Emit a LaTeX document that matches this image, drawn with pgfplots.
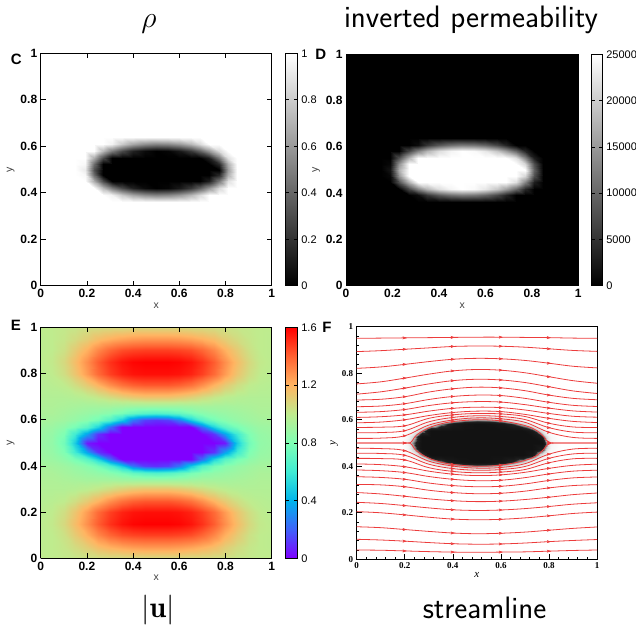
\documentclass[border=0pt]{standalone}
\usepackage{fontspec}
\usepackage{pgfplots}
\usepackage{pgfplotstable}
\pgfplotsset{compat=1.18}
\newfontfamily\hel{Liberation Sans}
\newfontfamily\tms{Liberation Serif}
\definecolor{slred}{RGB}{236,60,60}
\pgfdeclareplotmark{barb}{%
 \pgfpathmoveto{\pgfpoint{-0.9\pgfplotmarksize}{0.6\pgfplotmarksize}}%
 \pgfpathlineto{\pgfpoint{0.8\pgfplotmarksize}{0pt}}%
 \pgfpathlineto{\pgfpoint{-0.9\pgfplotmarksize}{-0.6\pgfplotmarksize}}%
 \pgfpathlineto{\pgfpoint{-0.5\pgfplotmarksize}{0pt}}%
 \pgfpathclose
 \pgfusepathqfillstroke}
\pgfplotsset{
 colormap={mplrb}{rgb(0cm)=(0.5,0,1); rgb(1cm)=(0.25,0.383,0.981); rgb(2cm)=(0,0.707,0.924); rgb(3cm)=(0.25,0.924,0.831); rgb(4cm)=(0.5,1,0.707); rgb(5cm)=(0.75,0.924,0.556); rgb(6cm)=(1,0.707,0.383); rgb(7cm)=(1,0.383,0.195); rgb(8cm)=(1,0,0)},
 colormap={fgray}{gray(0cm)=(0.07); gray(1cm)=(0.09); gray(2cm)=(0.13); gray(3cm)=(0.6); gray(4cm)=(0.84); gray(5cm)=(0.91); gray(6cm)=(0.95); gray(7cm)=(0.97); gray(8cm)=(0.98); gray(9cm)=(0.99); gray(10cm)=(1)},
 gp/.style={
  scale only axis, view={0}{90}, xmin=0, xmax=1, ymin=0, ymax=1,
  xtick={0,0.2,0.4,0.6,0.8,1}, ytick={0,0.2,0.4,0.6,0.8,1}, ztick=\empty,
  tick align=inside, major tick length=5bp,
  tick style={black, line width=0.6bp},
  axis line style={line width=0.9bp},
  axis on top,
  tick label style={font=\hel\bfseries\fontsize{12bp}{13bp}\selectfont},
  /pgf/number format/assume math mode=true,
  xlabel={x}, ylabel={y},
  label style={font=\hel\fontsize{10.5bp}{11bp}\selectfont, text=black!75},
  xlabel style={yshift=2bp}, ylabel style={yshift=-1bp},
  colorbar,
  colorbar style={
   at={(parent axis.north east)}, anchor=north west,
   width=12bp, scale only axis,
   ytick pos=both, yticklabel pos=right,
   tick align=inside, major tick length=3.5bp,
   tick style={black, line width=0.6bp},
   axis line style={line width=0.8bp},
   tick label style={font=\hel\fontsize{11bp}{12bp}\selectfont},
   /pgf/number format/assume math mode=true,
  },
 },
}

\pgfplotstableread[row sep=\\]{x y r\\
0.15 0.36 1\\ 0.19 0.36 1\\ 0.23 0.36 1\\ 0.27 0.36 1\\ 0.31 0.36 1\\ 0.35 0.36 1\\ 0.40 0.36 1\\ 0.45 0.36 1\\ 0.50 0.36 1\\ 0.55 0.36 1\\ 0.60 0.36 1\\ 0.65 0.36 1\\ 0.69 0.36 1\\ 0.73 0.36 1\\ 0.77 0.36 1\\ 0.81 0.36 1\\ 0.85 0.36 1\\ 0.89 0.36 1\\
0.15 0.39 1\\ 0.19 0.39 1\\ 0.23 0.39 1\\ 0.27 0.39 1\\ 0.31 0.39 0.95\\ 0.35 0.39 0.79\\ 0.40 0.39 0.65\\ 0.45 0.39 0.56\\ 0.50 0.39 0.52\\ 0.55 0.39 0.54\\ 0.60 0.39 0.60\\ 0.65 0.39 0.72\\ 0.69 0.39 0.86\\ 0.73 0.39 1\\ 0.77 0.39 1\\ 0.81 0.39 1\\ 0.85 0.39 1\\ 0.89 0.39 1\\
0.15 0.42 1\\ 0.19 0.42 1\\ 0.23 0.42 1\\ 0.27 0.42 0.72\\ 0.31 0.42 0.48\\ 0.35 0.42 0.29\\ 0.40 0.42 0.13\\ 0.45 0.42 0.04\\ 0.50 0.42 0\\ 0.55 0.42 0.02\\ 0.60 0.42 0.09\\ 0.65 0.42 0.22\\ 0.69 0.42 0.38\\ 0.73 0.42 0.59\\ 0.77 0.42 0.85\\ 0.81 0.42 1\\ 0.85 0.42 1\\ 0.89 0.42 1\\
0.15 0.45 1\\ 0.19 0.45 1\\ 0.23 0.45 0.67\\ 0.27 0.45 0.29\\ 0.31 0.45 0\\ 0.35 0.45 0\\ 0.40 0.45 0\\ 0.45 0.45 0\\ 0.50 0.45 0\\ 0.55 0.45 0\\ 0.60 0.45 0\\ 0.65 0.45 0\\ 0.69 0.45 0\\ 0.73 0.45 0.12\\ 0.77 0.45 0.47\\ 0.81 0.45 0.88\\ 0.85 0.45 1\\ 0.89 0.45 1\\
0.15 0.475 1\\ 0.19 0.475 0.97\\ 0.23 0.475 0.42\\ 0.27 0.475 0\\ 0.31 0.475 0\\ 0.35 0.475 0\\ 0.40 0.475 0\\ 0.45 0.475 0\\ 0.50 0.475 0\\ 0.55 0.475 0\\ 0.60 0.475 0\\ 0.65 0.475 0\\ 0.69 0.475 0\\ 0.73 0.475 0\\ 0.77 0.475 0.16\\ 0.81 0.475 0.69\\ 0.85 0.475 1\\ 0.89 0.475 1\\
0.15 0.5 1\\ 0.19 0.5 0.92\\ 0.23 0.5 0.31\\ 0.27 0.5 0\\ 0.31 0.5 0\\ 0.35 0.5 0\\ 0.40 0.5 0\\ 0.45 0.5 0\\ 0.50 0.5 0\\ 0.55 0.5 0\\ 0.60 0.5 0\\ 0.65 0.5 0\\ 0.69 0.5 0\\ 0.73 0.5 0\\ 0.77 0.5 0\\ 0.81 0.5 0.62\\ 0.85 0.5 1\\ 0.89 0.5 1\\
0.15 0.525 1\\ 0.19 0.525 0.97\\ 0.23 0.525 0.42\\ 0.27 0.525 0\\ 0.31 0.525 0\\ 0.35 0.525 0\\ 0.40 0.525 0\\ 0.45 0.525 0\\ 0.50 0.525 0\\ 0.55 0.525 0\\ 0.60 0.525 0\\ 0.65 0.525 0\\ 0.69 0.525 0\\ 0.73 0.525 0\\ 0.77 0.525 0.16\\ 0.81 0.525 0.69\\ 0.85 0.525 1\\ 0.89 0.525 1\\
0.15 0.55 1\\ 0.19 0.55 1\\ 0.23 0.55 0.67\\ 0.27 0.55 0.29\\ 0.31 0.55 0\\ 0.35 0.55 0\\ 0.40 0.55 0\\ 0.45 0.55 0\\ 0.50 0.55 0\\ 0.55 0.55 0\\ 0.60 0.55 0\\ 0.65 0.55 0\\ 0.69 0.55 0\\ 0.73 0.55 0.12\\ 0.77 0.55 0.47\\ 0.81 0.55 0.88\\ 0.85 0.55 1\\ 0.89 0.55 1\\
0.15 0.58 1\\ 0.19 0.58 1\\ 0.23 0.58 1\\ 0.27 0.58 0.72\\ 0.31 0.58 0.48\\ 0.35 0.58 0.29\\ 0.40 0.58 0.13\\ 0.45 0.58 0.04\\ 0.50 0.58 0\\ 0.55 0.58 0.02\\ 0.60 0.58 0.09\\ 0.65 0.58 0.22\\ 0.69 0.58 0.38\\ 0.73 0.58 0.59\\ 0.77 0.58 0.85\\ 0.81 0.58 1\\ 0.85 0.58 1\\ 0.89 0.58 1\\
0.15 0.61 1\\ 0.19 0.61 1\\ 0.23 0.61 1\\ 0.27 0.61 1\\ 0.31 0.61 0.95\\ 0.35 0.61 0.79\\ 0.40 0.61 0.65\\ 0.45 0.61 0.56\\ 0.50 0.61 0.52\\ 0.55 0.61 0.54\\ 0.60 0.61 0.60\\ 0.65 0.61 0.72\\ 0.69 0.61 0.86\\ 0.73 0.61 1\\ 0.77 0.61 1\\ 0.81 0.61 1\\ 0.85 0.61 1\\ 0.89 0.61 1\\
0.15 0.64 1\\ 0.19 0.64 1\\ 0.23 0.64 1\\ 0.27 0.64 1\\ 0.31 0.64 1\\ 0.35 0.64 1\\ 0.40 0.64 1\\ 0.45 0.64 1\\ 0.50 0.64 1\\ 0.55 0.64 1\\ 0.60 0.64 1\\ 0.65 0.64 1\\ 0.69 0.64 1\\ 0.73 0.64 1\\ 0.77 0.64 1\\ 0.81 0.64 1\\ 0.85 0.64 1\\ 0.89 0.64 1\\
}\rhotab

\pgfplotstableread[row sep=\\]{x y v\\
0 0 1.0\\ 0.05 0 1.0\\ 0.1 0 1.01\\ 0.15 0 1.02\\ 0.2 0 1.04\\ 0.25 0 1.05\\ 0.3 0 1.06\\ 0.35 0 1.06\\ 0.4 0 1.07\\ 0.45 0 1.07\\ 0.5 0 1.07\\ 0.55 0 1.07\\ 0.6 0 1.07\\ 0.65 0 1.06\\ 0.7 0 1.06\\ 0.75 0 1.05\\ 0.8 0 1.04\\ 0.85 0 1.02\\ 0.9 0 1.01\\ 0.95 0 1.0\\ 1 0 1.0\\
0 0.05 0.99\\ 0.05 0.05 1.0\\ 0.1 0.05 1.02\\ 0.15 0.05 1.06\\ 0.2 0.05 1.11\\ 0.25 0.05 1.17\\ 0.3 0.05 1.21\\ 0.35 0.05 1.24\\ 0.4 0.05 1.26\\ 0.45 0.05 1.27\\ 0.5 0.05 1.27\\ 0.55 0.05 1.27\\ 0.6 0.05 1.26\\ 0.65 0.05 1.24\\ 0.7 0.05 1.21\\ 0.75 0.05 1.17\\ 0.8 0.05 1.11\\ 0.85 0.05 1.06\\ 0.9 0.05 1.02\\ 0.95 0.05 1.0\\ 1 0.05 0.99\\
0 0.1 0.99\\ 0.05 0.1 1.0\\ 0.1 0.1 1.04\\ 0.15 0.1 1.12\\ 0.2 0.1 1.21\\ 0.25 0.1 1.31\\ 0.3 0.1 1.39\\ 0.35 0.1 1.44\\ 0.4 0.1 1.46\\ 0.45 0.1 1.47\\ 0.5 0.1 1.47\\ 0.55 0.1 1.47\\ 0.6 0.1 1.46\\ 0.65 0.1 1.44\\ 0.7 0.1 1.39\\ 0.75 0.1 1.31\\ 0.8 0.1 1.21\\ 0.85 0.1 1.12\\ 0.9 0.1 1.04\\ 0.95 0.1 1.0\\ 1 0.1 0.99\\
0 0.15 0.99\\ 0.05 0.15 1.01\\ 0.1 0.15 1.07\\ 0.15 0.15 1.17\\ 0.2 0.15 1.29\\ 0.25 0.15 1.41\\ 0.3 0.15 1.5\\ 0.35 0.15 1.56\\ 0.4 0.15 1.59\\ 0.45 0.15 1.6\\ 0.5 0.15 1.6\\ 0.55 0.15 1.6\\ 0.6 0.15 1.59\\ 0.65 0.15 1.56\\ 0.7 0.15 1.5\\ 0.75 0.15 1.41\\ 0.8 0.15 1.29\\ 0.85 0.15 1.17\\ 0.9 0.15 1.07\\ 0.95 0.15 1.01\\ 1 0.15 0.99\\
0 0.2 0.98\\ 0.05 0.2 1.0\\ 0.1 0.2 1.05\\ 0.15 0.2 1.14\\ 0.2 0.2 1.26\\ 0.25 0.2 1.38\\ 0.3 0.2 1.47\\ 0.35 0.2 1.53\\ 0.4 0.2 1.56\\ 0.45 0.2 1.57\\ 0.5 0.2 1.57\\ 0.55 0.2 1.57\\ 0.6 0.2 1.56\\ 0.65 0.2 1.53\\ 0.7 0.2 1.47\\ 0.75 0.2 1.38\\ 0.8 0.2 1.26\\ 0.85 0.2 1.14\\ 0.9 0.2 1.05\\ 0.95 0.2 1.0\\ 1 0.2 0.98\\
0 0.25 0.97\\ 0.05 0.25 0.98\\ 0.1 0.25 1.0\\ 0.15 0.25 1.05\\ 0.2 0.25 1.12\\ 0.25 0.25 1.2\\ 0.3 0.25 1.29\\ 0.35 0.25 1.36\\ 0.4 0.25 1.4\\ 0.45 0.25 1.42\\ 0.5 0.25 1.42\\ 0.55 0.25 1.42\\ 0.6 0.25 1.4\\ 0.65 0.25 1.36\\ 0.7 0.25 1.29\\ 0.75 0.25 1.2\\ 0.8 0.25 1.12\\ 0.85 0.25 1.05\\ 0.9 0.25 1.0\\ 0.95 0.25 0.98\\ 1 0.25 0.97\\
0 0.3 0.96\\ 0.05 0.3 0.96\\ 0.1 0.3 0.96\\ 0.15 0.3 0.97\\ 0.2 0.3 0.99\\ 0.25 0.3 1.02\\ 0.3 0.3 1.06\\ 0.35 0.3 1.1\\ 0.4 0.3 1.13\\ 0.45 0.3 1.15\\ 0.5 0.3 1.15\\ 0.55 0.3 1.15\\ 0.6 0.3 1.13\\ 0.65 0.3 1.1\\ 0.7 0.3 1.06\\ 0.75 0.3 1.02\\ 0.8 0.3 0.99\\ 0.85 0.3 0.97\\ 0.9 0.3 0.96\\ 0.95 0.3 0.96\\ 1 0.3 0.96\\
0 0.34 0.95\\ 0.05 0.34 0.95\\ 0.1 0.34 0.94\\ 0.15 0.34 0.93\\ 0.2 0.34 0.92\\ 0.25 0.34 0.92\\ 0.3 0.34 0.92\\ 0.35 0.34 0.91\\ 0.4 0.34 0.9\\ 0.45 0.34 0.9\\ 0.5 0.34 0.9\\ 0.55 0.34 0.9\\ 0.6 0.34 0.9\\ 0.65 0.34 0.91\\ 0.7 0.34 0.92\\ 0.75 0.34 0.92\\ 0.8 0.34 0.92\\ 0.85 0.34 0.93\\ 0.9 0.34 0.94\\ 0.95 0.34 0.95\\ 1 0.34 0.95\\
0 0.37 0.94\\ 0.05 0.37 0.94\\ 0.1 0.37 0.92\\ 0.15 0.37 0.9\\ 0.2 0.37 0.88\\ 0.25 0.37 0.86\\ 0.3 0.37 0.83\\ 0.35 0.37 0.78\\ 0.4 0.37 0.72\\ 0.45 0.37 0.68\\ 0.5 0.37 0.66\\ 0.55 0.37 0.68\\ 0.6 0.37 0.72\\ 0.65 0.37 0.78\\ 0.7 0.37 0.83\\ 0.75 0.37 0.86\\ 0.8 0.37 0.88\\ 0.85 0.37 0.9\\ 0.9 0.37 0.92\\ 0.95 0.37 0.94\\ 1 0.37 0.94\\
0 0.4 0.93\\ 0.05 0.4 0.92\\ 0.1 0.4 0.9\\ 0.15 0.4 0.87\\ 0.2 0.4 0.83\\ 0.25 0.4 0.77\\ 0.3 0.4 0.66\\ 0.35 0.4 0.48\\ 0.4 0.4 0.25\\ 0.45 0.4 0.13\\ 0.5 0.4 0.1\\ 0.55 0.4 0.13\\ 0.6 0.4 0.25\\ 0.65 0.4 0.48\\ 0.7 0.4 0.66\\ 0.75 0.4 0.77\\ 0.8 0.4 0.83\\ 0.85 0.4 0.87\\ 0.9 0.4 0.9\\ 0.95 0.4 0.92\\ 1 0.4 0.93\\
0 0.43 0.9\\ 0.05 0.43 0.89\\ 0.1 0.43 0.85\\ 0.15 0.43 0.78\\ 0.2 0.43 0.68\\ 0.25 0.43 0.5\\ 0.3 0.43 0.22\\ 0.35 0.43 0\\ 0.4 0.43 0\\ 0.45 0.43 0\\ 0.5 0.43 0\\ 0.55 0.43 0\\ 0.6 0.43 0\\ 0.65 0.43 0\\ 0.7 0.43 0.22\\ 0.75 0.43 0.5\\ 0.8 0.43 0.68\\ 0.85 0.43 0.78\\ 0.9 0.43 0.85\\ 0.95 0.43 0.89\\ 1 0.43 0.9\\
0 0.46 0.89\\ 0.05 0.46 0.87\\ 0.1 0.46 0.8\\ 0.15 0.46 0.6\\ 0.2 0.46 0.35\\ 0.25 0.46 0.1\\ 0.3 0.46 0\\ 0.35 0.46 0\\ 0.4 0.46 0\\ 0.45 0.46 0\\ 0.5 0.46 0\\ 0.55 0.46 0\\ 0.6 0.46 0\\ 0.65 0.46 0\\ 0.7 0.46 0\\ 0.75 0.46 0.1\\ 0.8 0.46 0.35\\ 0.85 0.46 0.6\\ 0.9 0.46 0.8\\ 0.95 0.46 0.87\\ 1 0.46 0.89\\
0 0.5 0.88\\ 0.05 0.5 0.86\\ 0.1 0.5 0.76\\ 0.15 0.5 0.48\\ 0.2 0.5 0.05\\ 0.25 0.5 0\\ 0.3 0.5 0\\ 0.35 0.5 0\\ 0.4 0.5 0\\ 0.45 0.5 0\\ 0.5 0.5 0\\ 0.55 0.5 0\\ 0.6 0.5 0\\ 0.65 0.5 0\\ 0.7 0.5 0\\ 0.75 0.5 0\\ 0.8 0.5 0.05\\ 0.85 0.5 0.48\\ 0.9 0.5 0.76\\ 0.95 0.5 0.86\\ 1 0.5 0.88\\
0 0.54 0.89\\ 0.05 0.54 0.87\\ 0.1 0.54 0.8\\ 0.15 0.54 0.6\\ 0.2 0.54 0.35\\ 0.25 0.54 0.1\\ 0.3 0.54 0\\ 0.35 0.54 0\\ 0.4 0.54 0\\ 0.45 0.54 0\\ 0.5 0.54 0\\ 0.55 0.54 0\\ 0.6 0.54 0\\ 0.65 0.54 0\\ 0.7 0.54 0\\ 0.75 0.54 0.1\\ 0.8 0.54 0.35\\ 0.85 0.54 0.6\\ 0.9 0.54 0.8\\ 0.95 0.54 0.87\\ 1 0.54 0.89\\
0 0.57 0.9\\ 0.05 0.57 0.89\\ 0.1 0.57 0.85\\ 0.15 0.57 0.78\\ 0.2 0.57 0.68\\ 0.25 0.57 0.5\\ 0.3 0.57 0.22\\ 0.35 0.57 0\\ 0.4 0.57 0\\ 0.45 0.57 0\\ 0.5 0.57 0\\ 0.55 0.57 0\\ 0.6 0.57 0\\ 0.65 0.57 0\\ 0.7 0.57 0.22\\ 0.75 0.57 0.5\\ 0.8 0.57 0.68\\ 0.85 0.57 0.78\\ 0.9 0.57 0.85\\ 0.95 0.57 0.89\\ 1 0.57 0.9\\
0 0.6 0.93\\ 0.05 0.6 0.92\\ 0.1 0.6 0.9\\ 0.15 0.6 0.87\\ 0.2 0.6 0.83\\ 0.25 0.6 0.77\\ 0.3 0.6 0.66\\ 0.35 0.6 0.48\\ 0.4 0.6 0.25\\ 0.45 0.6 0.13\\ 0.5 0.6 0.1\\ 0.55 0.6 0.13\\ 0.6 0.6 0.25\\ 0.65 0.6 0.48\\ 0.7 0.6 0.66\\ 0.75 0.6 0.77\\ 0.8 0.6 0.83\\ 0.85 0.6 0.87\\ 0.9 0.6 0.9\\ 0.95 0.6 0.92\\ 1 0.6 0.93\\
0 0.63 0.94\\ 0.05 0.63 0.94\\ 0.1 0.63 0.92\\ 0.15 0.63 0.9\\ 0.2 0.63 0.88\\ 0.25 0.63 0.86\\ 0.3 0.63 0.83\\ 0.35 0.63 0.78\\ 0.4 0.63 0.72\\ 0.45 0.63 0.68\\ 0.5 0.63 0.66\\ 0.55 0.63 0.68\\ 0.6 0.63 0.72\\ 0.65 0.63 0.78\\ 0.7 0.63 0.83\\ 0.75 0.63 0.86\\ 0.8 0.63 0.88\\ 0.85 0.63 0.9\\ 0.9 0.63 0.92\\ 0.95 0.63 0.94\\ 1 0.63 0.94\\
0 0.66 0.95\\ 0.05 0.66 0.95\\ 0.1 0.66 0.94\\ 0.15 0.66 0.93\\ 0.2 0.66 0.92\\ 0.25 0.66 0.92\\ 0.3 0.66 0.92\\ 0.35 0.66 0.91\\ 0.4 0.66 0.9\\ 0.45 0.66 0.9\\ 0.5 0.66 0.9\\ 0.55 0.66 0.9\\ 0.6 0.66 0.9\\ 0.65 0.66 0.91\\ 0.7 0.66 0.92\\ 0.75 0.66 0.92\\ 0.8 0.66 0.92\\ 0.85 0.66 0.93\\ 0.9 0.66 0.94\\ 0.95 0.66 0.95\\ 1 0.66 0.95\\
0 0.7 0.96\\ 0.05 0.7 0.96\\ 0.1 0.7 0.96\\ 0.15 0.7 0.97\\ 0.2 0.7 0.99\\ 0.25 0.7 1.02\\ 0.3 0.7 1.06\\ 0.35 0.7 1.1\\ 0.4 0.7 1.13\\ 0.45 0.7 1.15\\ 0.5 0.7 1.15\\ 0.55 0.7 1.15\\ 0.6 0.7 1.13\\ 0.65 0.7 1.1\\ 0.7 0.7 1.06\\ 0.75 0.7 1.02\\ 0.8 0.7 0.99\\ 0.85 0.7 0.97\\ 0.9 0.7 0.96\\ 0.95 0.7 0.96\\ 1 0.7 0.96\\
0 0.75 0.97\\ 0.05 0.75 0.98\\ 0.1 0.75 1.0\\ 0.15 0.75 1.05\\ 0.2 0.75 1.12\\ 0.25 0.75 1.2\\ 0.3 0.75 1.29\\ 0.35 0.75 1.36\\ 0.4 0.75 1.4\\ 0.45 0.75 1.42\\ 0.5 0.75 1.42\\ 0.55 0.75 1.42\\ 0.6 0.75 1.4\\ 0.65 0.75 1.36\\ 0.7 0.75 1.29\\ 0.75 0.75 1.2\\ 0.8 0.75 1.12\\ 0.85 0.75 1.05\\ 0.9 0.75 1.0\\ 0.95 0.75 0.98\\ 1 0.75 0.97\\
0 0.8 0.98\\ 0.05 0.8 1.0\\ 0.1 0.8 1.05\\ 0.15 0.8 1.14\\ 0.2 0.8 1.26\\ 0.25 0.8 1.38\\ 0.3 0.8 1.47\\ 0.35 0.8 1.53\\ 0.4 0.8 1.56\\ 0.45 0.8 1.57\\ 0.5 0.8 1.57\\ 0.55 0.8 1.57\\ 0.6 0.8 1.56\\ 0.65 0.8 1.53\\ 0.7 0.8 1.47\\ 0.75 0.8 1.38\\ 0.8 0.8 1.26\\ 0.85 0.8 1.14\\ 0.9 0.8 1.05\\ 0.95 0.8 1.0\\ 1 0.8 0.98\\
0 0.85 0.99\\ 0.05 0.85 1.01\\ 0.1 0.85 1.07\\ 0.15 0.85 1.17\\ 0.2 0.85 1.29\\ 0.25 0.85 1.41\\ 0.3 0.85 1.5\\ 0.35 0.85 1.56\\ 0.4 0.85 1.59\\ 0.45 0.85 1.6\\ 0.5 0.85 1.6\\ 0.55 0.85 1.6\\ 0.6 0.85 1.59\\ 0.65 0.85 1.56\\ 0.7 0.85 1.5\\ 0.75 0.85 1.41\\ 0.8 0.85 1.29\\ 0.85 0.85 1.17\\ 0.9 0.85 1.07\\ 0.95 0.85 1.01\\ 1 0.85 0.99\\
0 0.9 0.99\\ 0.05 0.9 1.0\\ 0.1 0.9 1.04\\ 0.15 0.9 1.12\\ 0.2 0.9 1.21\\ 0.25 0.9 1.31\\ 0.3 0.9 1.39\\ 0.35 0.9 1.44\\ 0.4 0.9 1.46\\ 0.45 0.9 1.47\\ 0.5 0.9 1.47\\ 0.55 0.9 1.47\\ 0.6 0.9 1.46\\ 0.65 0.9 1.44\\ 0.7 0.9 1.39\\ 0.75 0.9 1.31\\ 0.8 0.9 1.21\\ 0.85 0.9 1.12\\ 0.9 0.9 1.04\\ 0.95 0.9 1.0\\ 1 0.9 0.99\\
0 0.95 0.99\\ 0.05 0.95 1.0\\ 0.1 0.95 1.02\\ 0.15 0.95 1.06\\ 0.2 0.95 1.11\\ 0.25 0.95 1.17\\ 0.3 0.95 1.21\\ 0.35 0.95 1.24\\ 0.4 0.95 1.26\\ 0.45 0.95 1.27\\ 0.5 0.95 1.27\\ 0.55 0.95 1.27\\ 0.6 0.95 1.26\\ 0.65 0.95 1.24\\ 0.7 0.95 1.21\\ 0.75 0.95 1.17\\ 0.8 0.95 1.11\\ 0.85 0.95 1.06\\ 0.9 0.95 1.02\\ 0.95 0.95 1.0\\ 1 0.95 0.99\\
0 1 1.0\\ 0.05 1 1.0\\ 0.1 1 1.01\\ 0.15 1 1.02\\ 0.2 1 1.04\\ 0.25 1 1.05\\ 0.3 1 1.06\\ 0.35 1 1.06\\ 0.4 1 1.07\\ 0.45 1 1.07\\ 0.5 1 1.07\\ 0.55 1 1.07\\ 0.6 1 1.07\\ 0.65 1 1.06\\ 0.7 1 1.06\\ 0.75 1 1.05\\ 0.8 1 1.04\\ 0.85 1 1.02\\ 0.9 1 1.01\\ 0.95 1 1.0\\ 1 1 1.0\\
}\utab

\pgfplotstableread[row sep=\\]{x U1 U2 U3 U4 U5 U6 U7 U8 U9 U10 U11 U12 U13 L1 L2 L3 L4 L5 L6 L7 L8 L9 L10 L11 L12 L13\\
0 0.95 0.893 0.821 0.754 0.71 0.685 0.656 0.632 0.61 0.587 0.567 0.544 0.52 0.477 0.456 0.434 0.41 0.384 0.355 0.322 0.287 0.245 0.205 0.14 0.086 0.04\\
0.1 0.951 0.897 0.827 0.763 0.720 0.688 0.659 0.635 0.613 0.590 0.568 0.545 0.521 0.476 0.455 0.433 0.407 0.381 0.352 0.320 0.281 0.240 0.200 0.136 0.083 0.039\\
0.2 0.952 0.903 0.838 0.779 0.736 0.699 0.669 0.644 0.621 0.600 0.574 0.553 0.531 0.467 0.447 0.427 0.398 0.373 0.344 0.312 0.271 0.231 0.191 0.128 0.078 0.036\\
0.3 0.953 0.909 0.850 0.796 0.754 0.719 0.687 0.661 0.637 0.618 0.606 0.591 0.577 0.422 0.409 0.394 0.379 0.356 0.328 0.297 0.260 0.221 0.181 0.120 0.072 0.033\\
0.4 0.954 0.915 0.860 0.810 0.768 0.733 0.700 0.673 0.649 0.631 0.621 0.610 0.599 0.401 0.390 0.378 0.366 0.344 0.317 0.287 0.252 0.213 0.173 0.113 0.067 0.031\\
0.5 0.955 0.917 0.864 0.816 0.774 0.740 0.706 0.678 0.654 0.637 0.627 0.617 0.608 0.392 0.383 0.372 0.360 0.338 0.312 0.282 0.248 0.210 0.170 0.110 0.065 0.030\\
0.6 0.955 0.916 0.862 0.813 0.771 0.737 0.704 0.676 0.652 0.635 0.625 0.614 0.604 0.395 0.386 0.375 0.363 0.340 0.314 0.284 0.250 0.212 0.172 0.112 0.066 0.031\\
0.7 0.954 0.912 0.855 0.802 0.760 0.725 0.692 0.665 0.642 0.623 0.614 0.601 0.589 0.411 0.399 0.386 0.374 0.351 0.324 0.293 0.257 0.218 0.178 0.117 0.070 0.032\\
0.8 0.953 0.905 0.843 0.785 0.742 0.706 0.675 0.650 0.627 0.606 0.585 0.566 0.546 0.452 0.434 0.415 0.391 0.367 0.339 0.307 0.267 0.227 0.187 0.125 0.076 0.035\\
0.9 0.951 0.898 0.830 0.768 0.724 0.692 0.662 0.638 0.615 0.593 0.569 0.547 0.524 0.474 0.453 0.432 0.404 0.379 0.350 0.317 0.278 0.237 0.197 0.133 0.081 0.038\\
1 0.95 0.894 0.823 0.757 0.713 0.686 0.657 0.633 0.611 0.588 0.567 0.544 0.52 0.477 0.456 0.434 0.409 0.383 0.354 0.321 0.285 0.243 0.203 0.139 0.085 0.04\\
}\sltab

\begin{document}
\begin{tikzpicture}
\useasboundingbox (0,0) rectangle (636bp,-627bp);

% ---- C: rho
\begin{axis}[gp, at={(40.7bp,-285.7bp)}, anchor=south west, width=231bp, height=232.4bp,
  colormap/blackwhite, point meta min=0, point meta max=1,
  colorbar style={xshift=5.6bp, height=232.4bp, ytick={0,0.2,0.4,0.6,0.8,1}}]
\addplot3[surf, shader=interp, mesh/cols=18, point meta=\thisrow{r}] table[x=x,y=y,z=r]{\rhotab};
\end{axis}

% ---- D: inverted permeability
\begin{axis}[gp, at={(346bp,-285.7bp)}, anchor=south west, width=232.3bp, height=231.4bp,
  axis background/.style={fill=black},
  colormap/blackwhite, point meta min=0, point meta max=25000,
  colorbar style={xshift=4.4bp, width=11.6bp, height=231.4bp, scaled y ticks=false,
   ytick={0,5000,10000,15000,20000,25000},
   yticklabels={0,5000,10000,15000,20000,25000}}]
\addplot3[surf, shader=interp, mesh/cols=18, point meta={25000*(1-\thisrow{r})}] table[x=x,y=y,z=r]{\rhotab};
\end{axis}

% ---- E: |u|
\begin{axis}[gp, at={(40.7bp,-558.3bp)}, anchor=south west, width=231bp, height=231bp,
  colormap name=mplrb, point meta min=0, point meta max=1.6,
  colorbar style={xshift=5bp, width=12.6bp, height=231bp, ytick={0,0.4,0.8,1.2,1.6}}]
\addplot3[surf, shader=interp, mesh/cols=21, point meta=\thisrow{v}] table[x=x,y=y,z=v]{\utab};
\end{axis}

% ---- F: streamlines (background)
\begin{axis}[at={(356.7bp,-559.3bp)}, anchor=south west, width=240.3bp, height=232.6bp,
  scale only axis, view={0}{90}, hide axis, xmin=0, xmax=1, ymin=0, ymax=1,
  colormap name=fgray, point meta min=0, point meta max=1]
\addplot3[surf, shader=interp, mesh/cols=18, point meta=\thisrow{r}] table[x=x,y=y,z=r]{\rhotab};
\end{axis}
\begin{axis}[at={(356.7bp,-559.3bp)}, anchor=south west, width=240.3bp, height=232.6bp,
  scale only axis, xmin=0, xmax=1, ymin=0, ymax=1,
  xtick={0,0.2,0.4,0.6,0.8,1}, ytick={0,0.2,0.4,0.6,0.8,1},
  minor tick num=4, tick pos=left, tick align=inside,
  major tick length=5bp, minor tick length=2.5bp,
  tick style={black, line width=0.6bp},
  axis line style={line width=1bp},
  tick label style={font=\tms\bfseries\fontsize{9bp}{10bp}\selectfont},
  /pgf/number format/assume math mode=true,
  xlabel={\tms\itshape x}, ylabel={\tms\itshape y},
  label style={font=\fontsize{11bp}{12bp}\selectfont},
  xlabel style={yshift=3bp}, ylabel style={yshift=-3bp},
  every axis plot/.append style={line width=0.8bp, smooth, tension=0.6, mark size=1.8bp, mark indices={3,5,7,9}},
  cycle list={slred,solid,mark=barb,mark options={solid,draw=slred,fill=slred,line width=0.4bp}\\}]
\addplot table[x=x,y=U1]{\sltab};
\addplot table[x=x,y=U2]{\sltab};
\addplot table[x=x,y=U3]{\sltab};
\addplot table[x=x,y=U4]{\sltab};
\addplot table[x=x,y=U5]{\sltab};
\addplot table[x=x,y=U6]{\sltab};
\addplot table[x=x,y=U7]{\sltab};
\addplot table[x=x,y=U8]{\sltab};
\addplot table[x=x,y=U9]{\sltab};
\addplot table[x=x,y=U10]{\sltab};
\addplot table[x=x,y=U11]{\sltab};
\addplot table[x=x,y=U12]{\sltab};
\addplot table[x=x,y=U13]{\sltab};
\addplot table[x=x,y=L1]{\sltab};
\addplot table[x=x,y=L2]{\sltab};
\addplot table[x=x,y=L3]{\sltab};
\addplot table[x=x,y=L4]{\sltab};
\addplot table[x=x,y=L5]{\sltab};
\addplot table[x=x,y=L6]{\sltab};
\addplot table[x=x,y=L7]{\sltab};
\addplot table[x=x,y=L8]{\sltab};
\addplot table[x=x,y=L9]{\sltab};
\addplot table[x=x,y=L10]{\sltab};
\addplot table[x=x,y=L11]{\sltab};
\addplot table[x=x,y=L12]{\sltab};
\addplot table[x=x,y=L13]{\sltab};
\addplot+[mark indices={3,8,10,14}] coordinates {(0,0.5) (0.1,0.5) (0.2,0.5) (0.225,0.503) (0.25,0.535) (0.3,0.565) (0.35,0.582) (0.4,0.592) (0.5,0.6) (0.6,0.595) (0.7,0.575) (0.75,0.553) (0.78,0.525) (0.8,0.503) (0.85,0.5) (0.9,0.5) (1,0.5)};
\addplot+[mark indices={3,8,10,14}] coordinates {(0,0.5) (0.1,0.5) (0.2,0.5) (0.225,0.497) (0.25,0.465) (0.3,0.435) (0.35,0.418) (0.4,0.408) (0.5,0.4) (0.6,0.405) (0.7,0.425) (0.75,0.447) (0.78,0.475) (0.8,0.497) (0.85,0.5) (0.9,0.5) (1,0.5)};
\end{axis}

% ---- titles and panel letters
\node[anchor=base, font=\Huge, scale=1.206] at (149bp,-27bp) {$\rho$};
\node[anchor=base, font=\sffamily\fontsize{31bp}{36bp}\selectfont] at (471bp,-27bp) {inverted permeability};
\node[anchor=base, font=\Huge, scale=1.206] at (158bp,-617.5bp) {$|\mathbf{u}|$};
\node[anchor=base, font=\sffamily\fontsize{31bp}{36bp}\selectfont] at (484.5bp,-618.3bp) {streamline};
\node[font=\hel\bfseries\fontsize{15bp}{15bp}\selectfont] at (16.2bp,-59.2bp) {C};
\node[font=\hel\bfseries\fontsize{15bp}{15bp}\selectfont] at (320.8bp,-54bp) {D};
\node[font=\hel\bfseries\fontsize{15bp}{15bp}\selectfont] at (16bp,-325bp) {E};
\node[font=\hel\bfseries\fontsize{15bp}{15bp}\selectfont] at (327bp,-327bp) {F};
\end{tikzpicture}
\end{document}
